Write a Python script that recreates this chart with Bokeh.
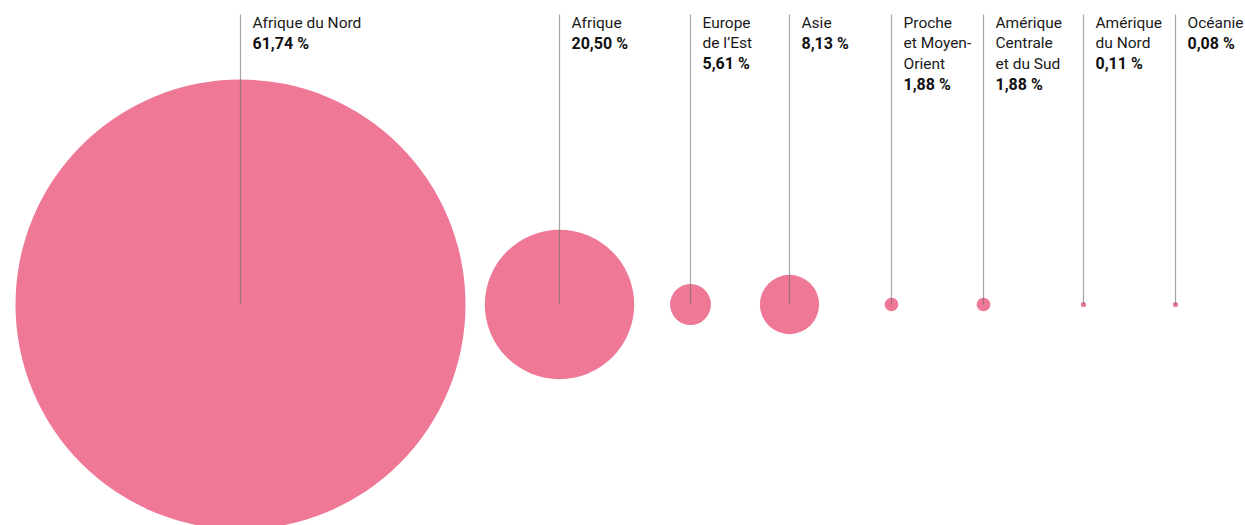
from bokeh.plotting import figure
from bokeh.models import Range1d, ColumnDataSource
from bokeh.embed import file_html
from bokeh.resources import INLINE
from bokeh.core.properties import value

# ---- data ----
regions = ["Afrique du Nord", "Afrique", "Europe\nde l\u2019Est", "Asie",
           "Proche\net Moyen-\nOrient", "Am\u00e9rique\nCentrale\net du Sud",
           "Am\u00e9rique\ndu Nord", "Oc\u00e9anie"]
shares = [61.74, 20.50, 5.61, 8.13, 1.88, 1.88, 0.11, 0.08]

# ---- layout ----
x_pos = [240, 559, 690, 789, 891, 983, 1083, 1175]
cy = 304
r_per_unit = 225 / 61.74
r_min = 2.6
line_top = 14
text_dx = 12
first_baseline = 22.5
line_h = 20.4

W, H = 1245, 525
p = figure(width=W, height=H, output_backend="svg", toolbar_location=None,
           x_range=Range1d(0, W), y_range=Range1d(H, 0),
           min_border=0, outline_line_color=None)
p.axis.visible = False
p.grid.visible = False
p.background_fill_color = "white"
p.border_fill_color = "white"

radii = [max(v * r_per_unit, r_min) for v in shares]
src = ColumnDataSource(dict(x=x_pos, y=[cy] * len(x_pos), r=radii))
p.circle(x="x", y="y", radius="r", source=src, fill_color="#EE7896",
         line_color=None)

p.segment(x0=x_pos, y0=[line_top] * len(x_pos), x1=x_pos, y1=[cy] * len(x_pos),
          line_color="#6a6a6a", line_alpha=0.6, line_width=1.2)

lx, ly, lt = [], [], []
px, py, pt = [], [], []
for x, lab, v in zip(x_pos, regions, shares):
    lines = lab.split("\n")
    for i, s in enumerate(lines):
        lx.append(x + text_dx)
        ly.append(first_baseline + i * line_h)
        lt.append(s)
    px.append(x + text_dx)
    py.append(first_baseline + len(lines) * line_h)
    pt.append(f"{v:.2f}".replace(".", ",") + " %")

p.text(x=lx, y=ly, text=lt, text_font=value("Roboto"), text_font_size="15.5px",
       text_color="#1a1a1a", text_baseline="alphabetic", text_align="left")
p.text(x=px, y=py, text=pt, text_font=value("Roboto"), text_font_size="16px",
       text_font_style="bold", text_color="#111111", text_baseline="alphabetic",
       text_align="left")

open("out.html", "w").write(file_html(p, INLINE))
